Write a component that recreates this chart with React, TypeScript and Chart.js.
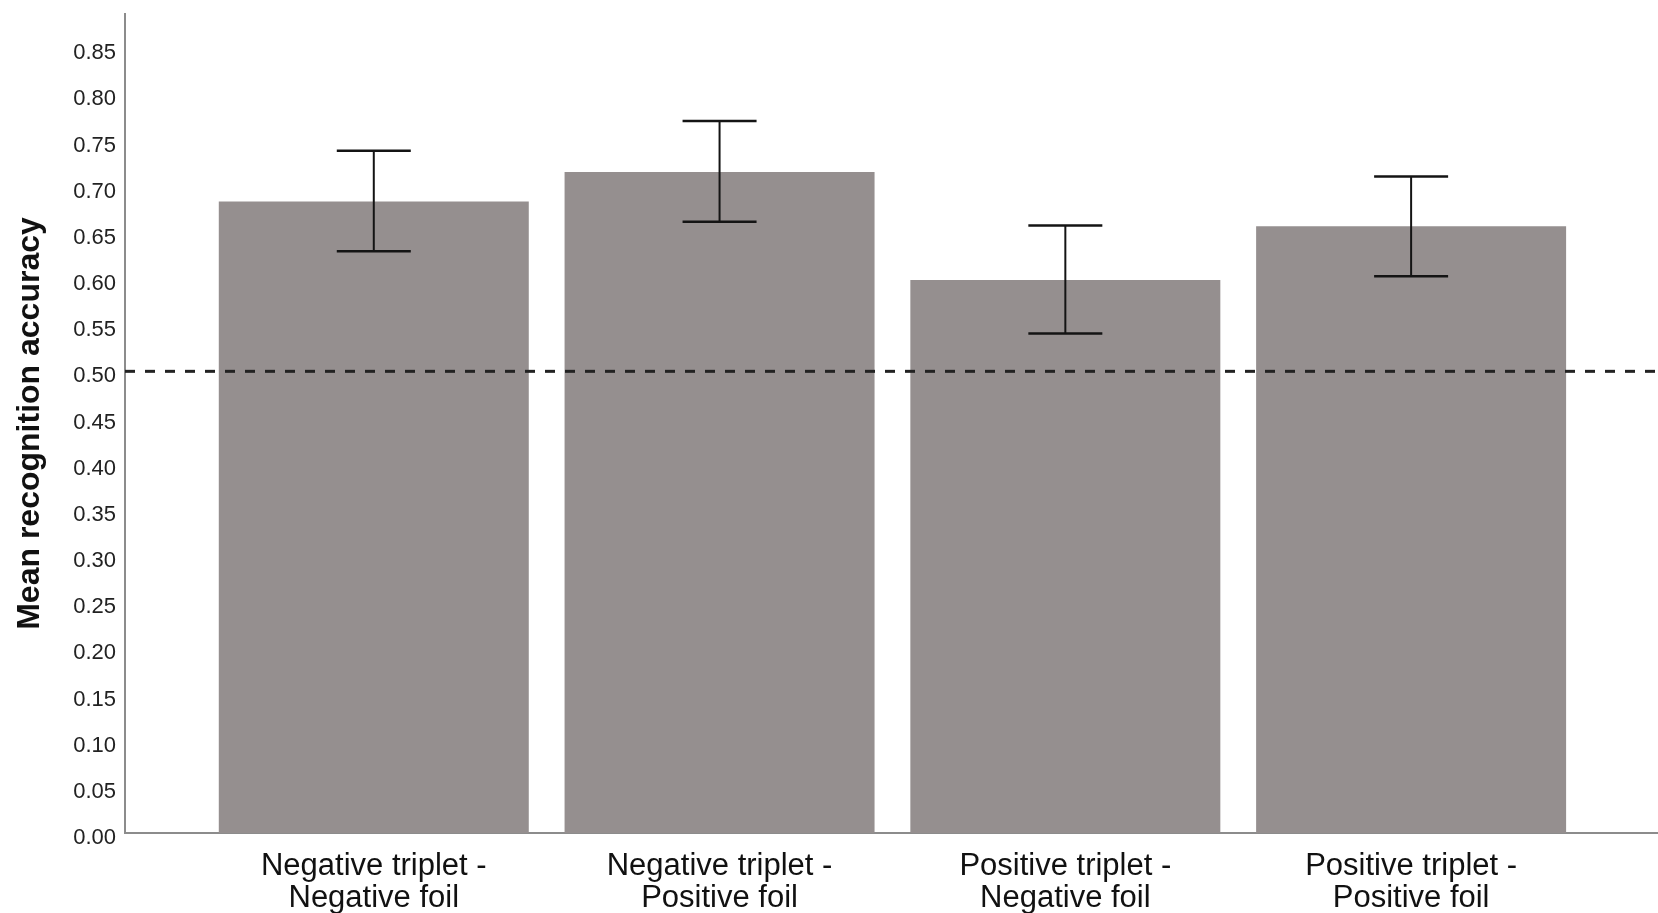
import React, { useEffect, useRef } from 'react';
import { Chart, registerables } from 'chart.js';

Chart.register(...registerables);

const categories: string[][] = [
  ['Negative triplet -', 'Negative foil'],
  ['Negative triplet -', 'Positive foil'],
  ['Positive triplet -', 'Negative foil'],
  ['Positive triplet -', 'Positive foil'],
];
const positions = [1, 2, 3, 4];
const means = [0.684, 0.716, 0.599, 0.657];
const ciUpper = [0.739, 0.771, 0.658, 0.711];
const ciLower = [0.63, 0.662, 0.541, 0.603];
const chanceLevel = 0.5;
const yTicks = [0, 0.05, 0.1, 0.15, 0.2, 0.25, 0.3, 0.35, 0.4, 0.45, 0.5, 0.55, 0.6, 0.65, 0.7, 0.75, 0.8, 0.85];

const FONT = "'Liberation Sans', Arial, sans-serif";

const overlayPlugin = {
  id: 'overlay',
  afterDatasetsDraw(chart: any) {
    const { ctx, chartArea, scales } = chart;
    const x = scales.x;
    const y = scales.y;
    ctx.save();
    // chance level dashed line
    const yp = y.getPixelForValue(chanceLevel);
    ctx.setLineDash([10, 10]);
    ctx.lineWidth = 3;
    ctx.strokeStyle = '#222222';
    ctx.beginPath();
    ctx.moveTo(chartArea.left, yp);
    ctx.lineTo(chartArea.right, yp);
    ctx.stroke();
    ctx.setLineDash([]);
    // error bars
    ctx.strokeStyle = '#141414';
    const half = 37;
    positions.forEach((p, i) => {
      const xp = x.getPixelForValue(p);
      const yu = y.getPixelForValue(ciUpper[i]);
      const yl = y.getPixelForValue(ciLower[i]);
      ctx.lineWidth = 2;
      ctx.beginPath();
      ctx.moveTo(xp, yu);
      ctx.lineTo(xp, yl);
      ctx.stroke();
      ctx.lineWidth = 2.5;
      ctx.beginPath();
      ctx.moveTo(xp - half, yu);
      ctx.lineTo(xp + half, yu);
      ctx.moveTo(xp - half, yl);
      ctx.lineTo(xp + half, yl);
      ctx.stroke();
    });
    ctx.restore();
  },
};

export default function App() {
  const ref = useRef<HTMLCanvasElement | null>(null);

  useEffect(() => {
    if (!ref.current) return;
    const chart = new Chart(ref.current, {
      type: 'bar',
      data: {
        datasets: [
          {
            data: positions.map((p, i) => ({ x: p, y: means[i] })),
            backgroundColor: '#958f8f',
            borderWidth: 0,
            barPercentage: 0.8965,
            categoryPercentage: 1,
          },
        ],
      },
      options: {
        animation: false,
        responsive: false,
        layout: { padding: { top: 14, right: 0, left: 0, bottom: 0 } },
        plugins: {
          legend: { display: false },
          tooltip: { enabled: false },
        },
        scales: {
          x: {
            type: 'linear',
            min: 0.2805,
            max: 4.714,
            offset: false,
            grid: { display: false, drawTicks: false },
            border: { display: true, color: '#8c8c8c', width: 2 },
            afterBuildTicks: (scale: any) => {
              scale.ticks = positions.map((v) => ({ value: v }));
            },
            afterFit: (scale: any) => {
              scale.height = 80;
              scale.paddingLeft = 0;
              scale.paddingRight = 0;
            },
            ticks: {
              autoSkip: false,
              maxRotation: 0,
              padding: 17,
              color: '#111111',
              font: { family: FONT, size: 31, lineHeight: 1.05 },
              callback: (v: any) => {
                const idx = positions.indexOf(Number(v));
                return idx >= 0 ? categories[idx] : '';
              },
            },
          },
          y: {
            type: 'linear',
            min: 0,
            max: 0.887,
            grid: { display: false, drawTicks: false },
            border: { display: true, color: '#8c8c8c', width: 2 },
            afterBuildTicks: (scale: any) => {
              scale.ticks = yTicks.map((v) => ({ value: v }));
            },
            afterFit: (scale: any) => {
              scale.width = 125;
              scale.paddingTop = 0;
              scale.paddingBottom = 0;
            },
            ticks: {
              padding: 9,
              labelOffset: 5,
              color: '#222222',
              font: { family: FONT, size: 22 },
              callback: (v: any) => Number(v).toFixed(2),
            },
            title: {
              display: true,
              text: 'Mean recognition accuracy',
              color: '#111111',
              font: { family: FONT, size: 32, weight: 'bold' },
              padding: { top: 11, bottom: 0 },
            },
          },
        },
      },
      plugins: [overlayPlugin],
    });
    return () => chart.destroy();
  }, []);

  return (
    <div style={{ position: 'absolute', left: 0, top: 0, width: 1658, height: 913, background: '#ffffff' }}>
      <canvas ref={ref} width={1658} height={913} style={{ display: 'block' }} />
    </div>
  );
}
